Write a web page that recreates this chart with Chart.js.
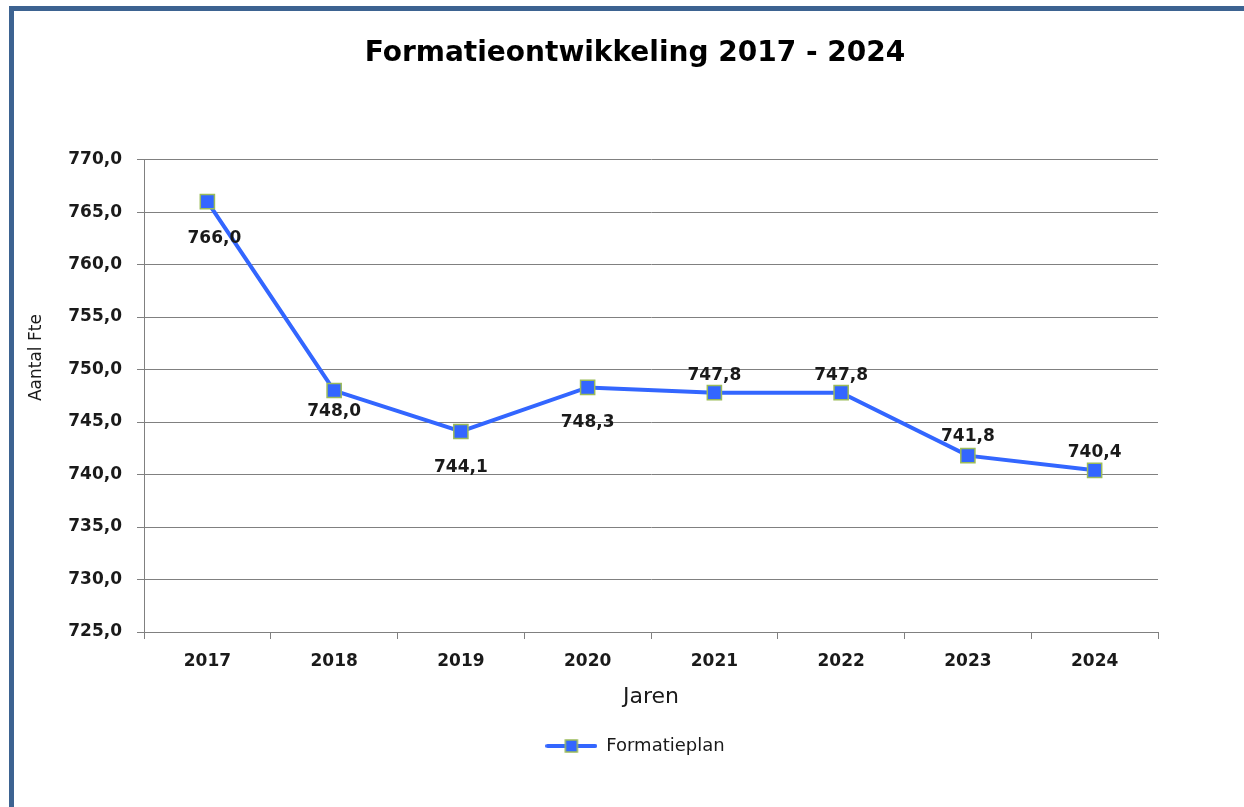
<!DOCTYPE html>
<html lang="nl">
<head>
    <meta charset="UTF-8">
    <title>Formatieontwikkeling 2017 - 2024</title>
    <script src="https://cdn.jsdelivr.net/npm/chart.js"></script>
    <style>
        body { margin: 0; overflow: hidden; background: #fff; }
        #kader {
            position: absolute; left: 9px; top: 6px;
            border-left: 5px solid #3d6391; border-top: 5px solid #3d6391;
            width: 1300px; height: 900px;
        }
    </style>
</head>
<body>
    <div id="kader">
        <canvas id="grafiekFormatie" width="1242" height="796"></canvas>
    </div>

    <script>
        // Gegevens
        const jaren = ['2017', '2018', '2019', '2020', '2021', '2022', '2023', '2024'];
        const formatieplan = [766.0, 748.0, 744.1, 748.3, 747.8, 747.8, 741.8, 740.4];

        const lijnKleur = '#3366ff';
        const randKleur = '#9bbb59';
        const tekstKleur = '#1a1a1a';

        // legenda-symbool: lijn met vierkantje
        const legendaIcoon = document.createElement('canvas');
        legendaIcoon.width = 52;
        legendaIcoon.height = 16;
        const lc = legendaIcoon.getContext('2d');
        lc.strokeStyle = lijnKleur;
        lc.lineWidth = 4;
        lc.lineCap = 'round';
        lc.beginPath();
        lc.moveTo(2, 8);
        lc.lineTo(50, 8);
        lc.stroke();
        lc.fillStyle = lijnKleur;
        lc.fillRect(20, 2, 12, 12);
        lc.strokeStyle = randKleur;
        lc.lineWidth = 1.5;
        lc.strokeRect(20, 2, 12, 12);

        const fmt = v => v.toFixed(1).replace('.', ',');

        // waardelabels bij de punten + y-as titel (staat in het origineel hoger dan het midden)
        const waardeLabels = {
            id: 'waardeLabels',
            afterDatasetsDraw(chart, args, opts) {
                const ctx = chart.ctx;
                const meta = chart.getDatasetMeta(0);
                const data = chart.data.datasets[0].data;
                ctx.save();
                ctx.font = 'bold 17px "DejaVu Sans"';
                ctx.fillStyle = tekstKleur;
                ctx.textAlign = 'center';
                ctx.textBaseline = 'middle';
                meta.data.forEach((pt, i) => {
                    const dx = opts.dx[i] || 0;
                    ctx.fillText(fmt(data[i]), pt.x + dx, pt.y + opts.dy[i]);
                });

                // y-as titel
                const area = chart.chartArea;
                ctx.translate(23, area.top + 198);
                ctx.rotate(-Math.PI / 2);
                ctx.font = '17px "DejaVu Sans"';
                ctx.fillText(opts.yTitel, 0, 0);
                ctx.restore();
            }
        };

        const ctx = document.getElementById('grafiekFormatie').getContext('2d');
        new Chart(ctx, {
            type: 'line',
            data: {
                labels: jaren,
                datasets: [{
                    label: 'Formatieplan',
                    data: formatieplan,
                    borderColor: lijnKleur,
                    backgroundColor: lijnKleur,
                    borderWidth: 4,
                    pointStyle: 'rect',
                    pointRadius: 10,
                    pointHoverRadius: 10,
                    pointBackgroundColor: lijnKleur,
                    pointBorderColor: randKleur,
                    pointBorderWidth: 1.5,
                    fill: false,
                    tension: 0
                }]
            },
            options: {
                responsive: false,
                animation: false,
                layout: { padding: { left: 0, right: 0, top: 0, bottom: 42 } },
                plugins: {
                    title: {
                        display: true,
                        text: 'Formatieontwikkeling 2017 - 2024',
                        color: '#000',
                        font: { family: 'DejaVu Sans', size: 28, weight: 'bold' },
                        padding: { top: 26, bottom: 89 }
                    },
                    legend: {
                        position: 'bottom',
                        labels: {
                            usePointStyle: true,
                            pointStyle: legendaIcoon,
                            pointStyleWidth: 52,
                            color: tekstKleur,
                            font: { family: 'DejaVu Sans', size: 18 },
                            padding: 10
                        }
                    },
                    tooltip: { enabled: false },
                    waardeLabels: {
                        dy: [37, 21, 36, 35, -17, -17, -19, -18],
                        dx: [7, 0, 0, 0, 0, 0, 0, 0],
                        yTitel: 'Aantal Fte'
                    }
                },
                scales: {
                    x: {
                        offset: true,
                        grid: {
                            offset: true,
                            drawOnChartArea: false,
                            color: '#808080',
                            tickLength: 7
                        },
                        border: { color: '#808080', width: 1 },
                        ticks: {
                            color: tekstKleur,
                            font: { family: 'DejaVu Sans', size: 17, weight: 'bold' },
                            padding: 12
                        },
                        title: {
                            display: true,
                            text: 'Jaren',
                            color: tekstKleur,
                            font: { family: 'DejaVu Sans', size: 22 },
                            padding: { top: 0, bottom: 17 }
                        },
                        afterFit(scale) { scale.height = 95; }
                    },
                    y: {
                        min: 725,
                        max: 770,
                        grid: { color: '#808080', tickLength: 7 },
                        border: { color: '#808080', width: 1 },
                        ticks: {
                            stepSize: 5,
                            color: tekstKleur,
                            font: { family: 'DejaVu Sans', size: 17, weight: 'bold' },
                            padding: 15,
                            callback: v => fmt(v)
                        },
                        afterFit(scale) { scale.width = 130; }
                    },
                    // lege as rechts, alleen voor de ruimte naast het plotgebied
                    rechts: {
                        position: 'right',
                        display: true,
                        grid: { display: false },
                        border: { display: false },
                        ticks: { display: false },
                        afterFit(scale) { scale.width = 98; }
                    }
                }
            },
            plugins: [waardeLabels]
        });
    </script>
</body>
</html>
